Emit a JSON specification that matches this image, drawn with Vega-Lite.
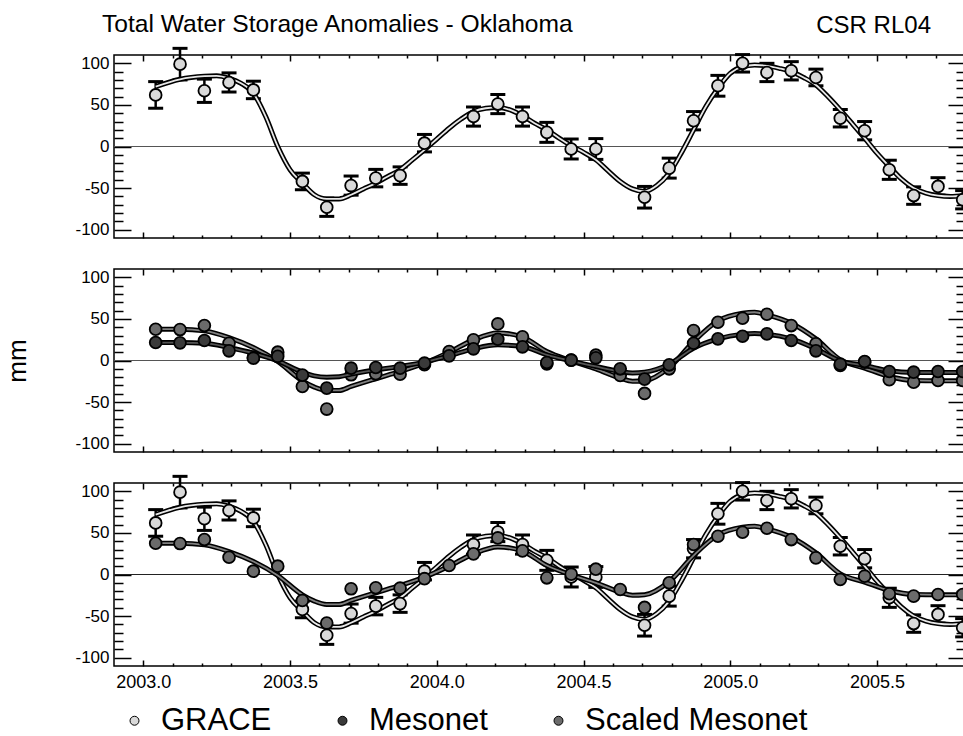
{
  "$schema": "https://vega.github.io/schema/vega-lite/v6.json",
  "background": "white",
  "padding": {"left": 4, "top": 12, "right": 0, "bottom": 0},
  "title": {"text": "Total Water Storage Anomalies - Oklahoma", "anchor": "start", "frame": "group", "fontSize": 24.6, "fontWeight": "normal", "font": "Liberation Sans", "color": "black", "baseline": "alphabetic", "offset": -44, "dx": -12},
  "datasets": {
    "grace": [
      {"t": 2003.042, "v": 62, "lo": 46, "hi": 78},
      {"t": 2003.125, "v": 99, "lo": 80, "hi": 118},
      {"t": 2003.208, "v": 67, "lo": 53, "hi": 81},
      {"t": 2003.292, "v": 77, "lo": 65.5, "hi": 88.5},
      {"t": 2003.375, "v": 68, "lo": 57.5, "hi": 78.5},
      {"t": 2003.542, "v": -42, "lo": -52, "hi": -32},
      {"t": 2003.625, "v": -73, "lo": -84, "hi": -62},
      {"t": 2003.708, "v": -47, "lo": -58.5, "hi": -35.5},
      {"t": 2003.792, "v": -38, "lo": -48.5, "hi": -27.5},
      {"t": 2003.875, "v": -35, "lo": -45.5, "hi": -24.5},
      {"t": 2003.958, "v": 4, "lo": -6.5, "hi": 14.5},
      {"t": 2004.125, "v": 36, "lo": 24.5, "hi": 47.5},
      {"t": 2004.208, "v": 51, "lo": 39.5, "hi": 62.5},
      {"t": 2004.292, "v": 36, "lo": 24.5, "hi": 47.5},
      {"t": 2004.375, "v": 17, "lo": 5, "hi": 29},
      {"t": 2004.458, "v": -3, "lo": -15, "hi": 9},
      {"t": 2004.542, "v": -3, "lo": -15.5, "hi": 9.5},
      {"t": 2004.708, "v": -61, "lo": -74, "hi": -48},
      {"t": 2004.792, "v": -26, "lo": -38, "hi": -14},
      {"t": 2004.875, "v": 31, "lo": 20, "hi": 42},
      {"t": 2004.958, "v": 73, "lo": 60.5, "hi": 85.5},
      {"t": 2005.042, "v": 100, "lo": 89.5, "hi": 110.5},
      {"t": 2005.125, "v": 89, "lo": 78, "hi": 100},
      {"t": 2005.208, "v": 91, "lo": 80, "hi": 102},
      {"t": 2005.292, "v": 83, "lo": 73, "hi": 93},
      {"t": 2005.375, "v": 34, "lo": 23.5, "hi": 44.5},
      {"t": 2005.458, "v": 19, "lo": 8, "hi": 30},
      {"t": 2005.542, "v": -28, "lo": -39.5, "hi": -16.5},
      {"t": 2005.625, "v": -59, "lo": -69.5, "hi": -48.5},
      {"t": 2005.708, "v": -48, "lo": -58.5, "hi": -37.5},
      {"t": 2005.792, "v": -64, "lo": -75, "hi": -53}
    ],
    "meso": [
      {"t": 2003.042, "m": 21.6, "s": 37.6},
      {"t": 2003.125, "m": 21.2, "s": 37.2},
      {"t": 2003.208, "m": 24, "s": 42},
      {"t": 2003.292, "m": 11.6, "s": 20.8},
      {"t": 2003.375, "m": 2.8, "s": 4},
      {"t": 2003.458, "m": 5, "s": 10},
      {"t": 2003.542, "m": -17.6, "s": -31.2},
      {"t": 2003.625, "m": -33.2, "s": -58.4},
      {"t": 2003.708, "m": -9.2, "s": -17.2},
      {"t": 2003.792, "m": -8.4, "s": -16},
      {"t": 2003.875, "m": -9.2, "s": -16.4},
      {"t": 2003.958, "m": -3.2, "s": -5},
      {"t": 2004.042, "m": 5.6, "s": 10.8},
      {"t": 2004.125, "m": 14, "s": 24.8},
      {"t": 2004.208, "m": 25.6, "s": 44},
      {"t": 2004.292, "m": 16.4, "s": 28.4},
      {"t": 2004.375, "m": -2.4, "s": -4},
      {"t": 2004.458, "m": 0.4, "s": 0.4},
      {"t": 2004.542, "m": 3.2, "s": 6.4},
      {"t": 2004.625, "m": -10, "s": -18},
      {"t": 2004.708, "m": -22.4, "s": -39.6},
      {"t": 2004.792, "m": -5.2, "s": -10},
      {"t": 2004.875, "m": 20.8, "s": 36},
      {"t": 2004.958, "m": 26, "s": 46},
      {"t": 2005.042, "m": 29.2, "s": 50.8},
      {"t": 2005.125, "m": 32, "s": 55.6},
      {"t": 2005.208, "m": 24, "s": 42},
      {"t": 2005.292, "m": 11.6, "s": 20},
      {"t": 2005.375, "m": -4.4, "s": -6},
      {"t": 2005.458, "m": -1.2, "s": -2},
      {"t": 2005.542, "m": -13.2, "s": -23.2},
      {"t": 2005.625, "m": -14, "s": -26},
      {"t": 2005.708, "m": -13.2, "s": -24},
      {"t": 2005.792, "m": -13.2, "s": -24}
    ],
    "gfit": [
      {"t": 2003.042, "v": 72}, {"t": 2003.125, "v": 80.8}, {"t": 2003.208, "v": 84.5}, {"t": 2003.25, "v": 85},
      {"t": 2003.292, "v": 82}, {"t": 2003.333, "v": 76}, {"t": 2003.375, "v": 64}, {"t": 2003.417, "v": 36},
      {"t": 2003.458, "v": 0}, {"t": 2003.5, "v": -28}, {"t": 2003.542, "v": -44}, {"t": 2003.583, "v": -58},
      {"t": 2003.625, "v": -63}, {"t": 2003.667, "v": -63}, {"t": 2003.708, "v": -58}, {"t": 2003.75, "v": -51},
      {"t": 2003.792, "v": -44}, {"t": 2003.833, "v": -36}, {"t": 2003.875, "v": -28}, {"t": 2003.917, "v": -16},
      {"t": 2003.958, "v": -4}, {"t": 2004.0, "v": 9}, {"t": 2004.042, "v": 22}, {"t": 2004.083, "v": 33},
      {"t": 2004.125, "v": 42}, {"t": 2004.167, "v": 46}, {"t": 2004.208, "v": 47}, {"t": 2004.25, "v": 44},
      {"t": 2004.292, "v": 37}, {"t": 2004.333, "v": 28}, {"t": 2004.375, "v": 20}, {"t": 2004.417, "v": 10},
      {"t": 2004.458, "v": 1}, {"t": 2004.5, "v": -7}, {"t": 2004.542, "v": -16}, {"t": 2004.583, "v": -29},
      {"t": 2004.625, "v": -42}, {"t": 2004.667, "v": -51}, {"t": 2004.708, "v": -54}, {"t": 2004.75, "v": -47},
      {"t": 2004.792, "v": -32}, {"t": 2004.833, "v": -8}, {"t": 2004.875, "v": 20}, {"t": 2004.917, "v": 48},
      {"t": 2004.958, "v": 70}, {"t": 2005.0, "v": 88}, {"t": 2005.042, "v": 96}, {"t": 2005.083, "v": 98},
      {"t": 2005.125, "v": 97}, {"t": 2005.167, "v": 94}, {"t": 2005.208, "v": 90}, {"t": 2005.25, "v": 83},
      {"t": 2005.292, "v": 74}, {"t": 2005.333, "v": 60}, {"t": 2005.375, "v": 44}, {"t": 2005.417, "v": 27},
      {"t": 2005.458, "v": 10}, {"t": 2005.5, "v": -8}, {"t": 2005.542, "v": -24}, {"t": 2005.583, "v": -39},
      {"t": 2005.625, "v": -50}, {"t": 2005.667, "v": -56}, {"t": 2005.708, "v": -59}, {"t": 2005.75, "v": -60},
      {"t": 2005.8, "v": -59}
    ],
    "mfit": [
      {"t": 2003.042, "m": 21.6, "s": 37.6}, {"t": 2003.125, "m": 21.6, "s": 37.6}, {"t": 2003.208, "m": 20.8, "s": 35.6},
      {"t": 2003.292, "m": 15.6, "s": 27.6}, {"t": 2003.375, "m": 8.8, "s": 15.6}, {"t": 2003.458, "m": -0.4, "s": -1.2},
      {"t": 2003.542, "m": -14, "s": -24.4}, {"t": 2003.583, "m": -18.5, "s": -32}, {"t": 2003.625, "m": -20, "s": -36},
      {"t": 2003.667, "m": -19.5, "s": -36}, {"t": 2003.708, "m": -16.4, "s": -31.2}, {"t": 2003.792, "m": -11.2, "s": -22},
      {"t": 2003.875, "m": -7.2, "s": -13.2}, {"t": 2003.958, "m": -2, "s": -3.2}, {"t": 2004.042, "m": 5.6, "s": 10},
      {"t": 2004.125, "m": 14, "s": 24.8}, {"t": 2004.208, "m": 18.8, "s": 33.2}, {"t": 2004.292, "m": 16.8, "s": 28.2},
      {"t": 2004.375, "m": 6.8, "s": 10.8}, {"t": 2004.458, "m": -0.4, "s": -0.4}, {"t": 2004.542, "m": -7.2, "s": -10},
      {"t": 2004.625, "m": -13.2, "s": -21.2}, {"t": 2004.667, "m": -15, "s": -25}, {"t": 2004.708, "m": -14, "s": -24.4},
      {"t": 2004.792, "m": -4.4, "s": -8.4}, {"t": 2004.875, "m": 14.8, "s": 22.8}, {"t": 2004.958, "m": 26, "s": 47.6},
      {"t": 2005.042, "m": 31.6, "s": 56.8}, {"t": 2005.083, "m": 32.5, "s": 58}, {"t": 2005.125, "m": 31.6, "s": 54.8},
      {"t": 2005.208, "m": 26, "s": 44.8}, {"t": 2005.292, "m": 14, "s": 26}, {"t": 2005.375, "m": -0.4, "s": 0.8},
      {"t": 2005.458, "m": -6, "s": -9.2}, {"t": 2005.542, "m": -12.4, "s": -19.2}, {"t": 2005.625, "m": -14.4, "s": -24},
      {"t": 2005.708, "m": -14.4, "s": -24.4}, {"t": 2005.8, "m": -14.4, "s": -24.4}
    ]
  },
  "spacing": 31,
  "bounds": "flush",
  "resolve": {"scale": {"fill": "shared"}, "legend": {"fill": "shared"}},
  "vconcat": [
    {
      "width": 851, "height": 183,
      "title": {"text": "CSR RL04", "anchor": "end", "frame": "group", "fontSize": 24, "fontWeight": "normal", "font": "Liberation Sans", "color": "black", "baseline": "alphabetic", "offset": -10, "dx": -34},
      "resolve": {"axis": {"x": "independent", "y": "independent"}},
      "layer": [
        {"data": {"name": "grace"}, "mark": {"type": "rule", "color": "#555555", "strokeWidth": 1.2},
         "encoding": {"y": {"datum": 0, "type": "quantitative", "scale": {"domain": [-110, 110], "nice": false}, "axis": null}}},
        {"data": {"name": "grace"}, "mark": {"type": "rule", "color": "black", "strokeWidth": 2.5},
         "encoding": {
           "x": {"field": "t", "type": "quantitative", "scale": {"domain": [2002.9, 2005.8], "nice": false, "zero": false},
                 "axis": {"orient": "bottom", "values": [2003, 2003.5, 2004, 2004.5, 2005, 2005.5], "labels": false, "tickSize": 6, "offset": -6, "title": null}},
           "y": {"field": "lo", "type": "quantitative", "scale": {"domain": [-110, 110], "nice": false},
                 "axis": {"orient": "left", "values": [-100, -50, 0, 50, 100], "labels": false, "tickSize": 17, "offset": -17, "title": null}},
           "y2": {"field": "hi"}}},
        {"data": {"name": "grace"}, "mark": {"type": "tick", "orient": "horizontal", "color": "black", "size": 15, "thickness": 3, "opacity": 1},
         "encoding": {
           "x": {"field": "t", "type": "quantitative", "scale": {"domain": [2002.9, 2005.8], "nice": false, "zero": false},
                 "axis": {"orient": "bottom", "values": [2003.1, 2003.2, 2003.3, 2003.4, 2003.6, 2003.7, 2003.8, 2003.9, 2004.1, 2004.2, 2004.3, 2004.4, 2004.6, 2004.7, 2004.8, 2004.9, 2005.1, 2005.2, 2005.3, 2005.4, 2005.6, 2005.7], "labels": false, "tickSize": 3, "offset": -3, "title": null}},
           "y": {"field": "lo", "type": "quantitative", "scale": {"domain": [-110, 110], "nice": false},
                 "axis": {"orient": "left", "values": [-90, -80, -70, -60, -40, -30, -20, -10, 10, 20, 30, 40, 60, 70, 80, 90], "labels": false, "tickSize": 9, "offset": -9, "title": null}}}},
        {"data": {"name": "grace"}, "mark": {"type": "tick", "orient": "horizontal", "color": "black", "size": 15, "thickness": 3, "opacity": 1},
         "encoding": {
           "x": {"field": "t", "type": "quantitative", "scale": {"domain": [2002.9, 2005.8], "nice": false, "zero": false},
                 "axis": {"orient": "top", "values": [2003, 2003.5, 2004, 2004.5, 2005, 2005.5], "labels": false, "tickSize": 6, "offset": -6, "title": null}},
           "y": {"field": "hi", "type": "quantitative", "scale": {"domain": [-110, 110], "nice": false},
                 "axis": {"orient": "right", "values": [-100, -50, 0, 50, 100], "labels": false, "tickSize": 17, "offset": -17, "title": null}}}},
        {"data": {"name": "gfit"}, "mark": {"type": "line", "color": "black", "strokeWidth": 5, "interpolate": "monotone"},
         "encoding": {
           "x": {"field": "t", "type": "quantitative", "scale": {"domain": [2002.9, 2005.8], "nice": false, "zero": false},
                 "axis": {"orient": "top", "values": [2003.1, 2003.2, 2003.3, 2003.4, 2003.6, 2003.7, 2003.8, 2003.9, 2004.1, 2004.2, 2004.3, 2004.4, 2004.6, 2004.7, 2004.8, 2004.9, 2005.1, 2005.2, 2005.3, 2005.4, 2005.6, 2005.7], "labels": false, "tickSize": 3, "offset": -3, "title": null}},
           "y": {"field": "v", "type": "quantitative", "scale": {"domain": [-110, 110], "nice": false},
                 "axis": {"orient": "right", "values": [-90, -80, -70, -60, -40, -30, -20, -10, 10, 20, 30, 40, 60, 70, 80, 90], "labels": false, "tickSize": 9, "offset": -9, "title": null}}}},
        {"data": {"name": "gfit"}, "mark": {"type": "line", "color": "#e8e8e8", "strokeWidth": 1.8, "interpolate": "monotone"},
         "encoding": {
           "x": {"field": "t", "type": "quantitative", "scale": {"domain": [2002.9, 2005.8], "nice": false, "zero": false}, "axis": null},
           "y": {"field": "v", "type": "quantitative", "scale": {"domain": [-110, 110], "nice": false}, "axis": null}}},
        {"data": {"name": "grace"}, "mark": {"type": "circle", "size": 140, "stroke": "black", "strokeWidth": 1.8, "opacity": 1},
         "encoding": {
           "x": {"field": "t", "type": "quantitative", "scale": {"domain": [2002.9, 2005.8], "nice": false, "zero": false}, "axis": null},
           "y": {"field": "v", "type": "quantitative", "scale": {"domain": [-110, 110], "nice": false},
                 "axis": {"orient": "left", "values": [-100, -50, 0, 50, 100], "labelExpr": "'' + datum.value", "ticks": false, "tickSize": 0, "labelPadding": 5, "title": null}},
           "fill": {"datum": "GRACE", "type": "nominal", "scale": {"domain": ["GRACE", "Mesonet", "Scaled Mesonet"], "range": ["#d9d9d9", "#3a3a3a", "#6b6b6b"]},
                    "legend": {"orient": "none", "legendX": 5, "legendY": 650, "direction": "horizontal", "title": null, "symbolType": "circle", "symbolSize": 80, "symbolStrokeColor": "black", "symbolStrokeWidth": 1, "labelFontSize": 31, "labelFont": "Liberation Sans", "labelColor": "black", "labelLimit": 0, "labelOffset": 11, "columnPadding": 55, "padding": 0}}}}
      ]
    },
    {
      "width": 851, "height": 183,
      "resolve": {"axis": {"x": "independent", "y": "independent"}},
      "layer": [
        {"data": {"name": "meso"}, "mark": {"type": "rule", "color": "#555555", "strokeWidth": 1.2},
         "encoding": {"y": {"datum": 0, "type": "quantitative", "scale": {"domain": [-110, 110], "nice": false}, "axis": null}}},
        {"data": {"name": "mfit"}, "mark": {"type": "line", "color": "black", "strokeWidth": 5, "interpolate": "monotone"},
         "encoding": {
           "x": {"field": "t", "type": "quantitative", "scale": {"domain": [2002.9, 2005.8], "nice": false, "zero": false},
                 "axis": {"orient": "bottom", "values": [2003, 2003.5, 2004, 2004.5, 2005, 2005.5], "labels": false, "tickSize": 6, "offset": -6, "title": null}},
           "y": {"field": "s", "type": "quantitative", "scale": {"domain": [-110, 110], "nice": false},
                 "axis": {"orient": "left", "values": [-100, -50, 0, 50, 100], "labels": false, "tickSize": 17, "offset": -17, "title": null}}}},
        {"data": {"name": "mfit"}, "mark": {"type": "line", "color": "#808080", "strokeWidth": 1.8, "interpolate": "monotone"},
         "encoding": {
           "x": {"field": "t", "type": "quantitative", "scale": {"domain": [2002.9, 2005.8], "nice": false, "zero": false},
                 "axis": {"orient": "bottom", "values": [2003.1, 2003.2, 2003.3, 2003.4, 2003.6, 2003.7, 2003.8, 2003.9, 2004.1, 2004.2, 2004.3, 2004.4, 2004.6, 2004.7, 2004.8, 2004.9, 2005.1, 2005.2, 2005.3, 2005.4, 2005.6, 2005.7], "labels": false, "tickSize": 3, "offset": -3, "title": null}},
           "y": {"field": "s", "type": "quantitative", "scale": {"domain": [-110, 110], "nice": false},
                 "axis": {"orient": "left", "values": [-90, -80, -70, -60, -40, -30, -20, -10, 10, 20, 30, 40, 60, 70, 80, 90], "labels": false, "tickSize": 9, "offset": -9, "title": null}}}},
        {"data": {"name": "meso"}, "mark": {"type": "circle", "size": 140, "stroke": "black", "strokeWidth": 1.8, "opacity": 1},
         "encoding": {
           "x": {"field": "t", "type": "quantitative", "scale": {"domain": [2002.9, 2005.8], "nice": false, "zero": false},
                 "axis": {"orient": "top", "values": [2003, 2003.5, 2004, 2004.5, 2005, 2005.5], "labels": false, "tickSize": 6, "offset": -6, "title": null}},
           "y": {"field": "s", "type": "quantitative", "scale": {"domain": [-110, 110], "nice": false},
                 "axis": {"orient": "right", "values": [-100, -50, 0, 50, 100], "labels": false, "tickSize": 17, "offset": -17, "title": null}},
           "fill": {"datum": "Scaled Mesonet", "type": "nominal", "scale": {"domain": ["GRACE", "Mesonet", "Scaled Mesonet"], "range": ["#d9d9d9", "#3a3a3a", "#6b6b6b"]},
                    "legend": {"orient": "none", "legendX": 5, "legendY": 650, "direction": "horizontal", "title": null, "symbolType": "circle", "symbolSize": 80, "symbolStrokeColor": "black", "symbolStrokeWidth": 1, "labelFontSize": 31, "labelFont": "Liberation Sans", "labelColor": "black", "labelLimit": 0, "labelOffset": 11, "columnPadding": 55, "padding": 0}}}},
        {"data": {"name": "mfit"}, "mark": {"type": "line", "color": "black", "strokeWidth": 5, "interpolate": "monotone"},
         "encoding": {
           "x": {"field": "t", "type": "quantitative", "scale": {"domain": [2002.9, 2005.8], "nice": false, "zero": false},
                 "axis": {"orient": "top", "values": [2003.1, 2003.2, 2003.3, 2003.4, 2003.6, 2003.7, 2003.8, 2003.9, 2004.1, 2004.2, 2004.3, 2004.4, 2004.6, 2004.7, 2004.8, 2004.9, 2005.1, 2005.2, 2005.3, 2005.4, 2005.6, 2005.7], "labels": false, "tickSize": 3, "offset": -3, "title": null}},
           "y": {"field": "m", "type": "quantitative", "scale": {"domain": [-110, 110], "nice": false},
                 "axis": {"orient": "right", "values": [-90, -80, -70, -60, -40, -30, -20, -10, 10, 20, 30, 40, 60, 70, 80, 90], "labels": false, "tickSize": 9, "offset": -9, "title": null}}}},
        {"data": {"name": "mfit"}, "mark": {"type": "line", "color": "#555555", "strokeWidth": 1.8, "interpolate": "monotone"},
         "encoding": {
           "x": {"field": "t", "type": "quantitative", "scale": {"domain": [2002.9, 2005.8], "nice": false, "zero": false}, "axis": null},
           "y": {"field": "m", "type": "quantitative", "scale": {"domain": [-110, 110], "nice": false}, "axis": null}}},
        {"data": {"name": "meso"}, "mark": {"type": "circle", "size": 140, "stroke": "black", "strokeWidth": 1.8, "opacity": 1},
         "encoding": {
           "x": {"field": "t", "type": "quantitative", "scale": {"domain": [2002.9, 2005.8], "nice": false, "zero": false}, "axis": null},
           "y": {"field": "m", "type": "quantitative", "scale": {"domain": [-110, 110], "nice": false},
                 "axis": {"orient": "left", "values": [-100, -50, 0, 50, 100], "labelExpr": "'' + datum.value", "ticks": false, "tickSize": 0, "labelPadding": 5, "title": "mm", "titleFontSize": 26, "titleFontWeight": "normal", "titleFont": "Liberation Sans", "titleColor": "black", "titlePadding": 44}},
           "fill": {"datum": "Mesonet", "type": "nominal", "scale": {"domain": ["GRACE", "Mesonet", "Scaled Mesonet"], "range": ["#d9d9d9", "#3a3a3a", "#6b6b6b"]},
                    "legend": {"orient": "none", "legendX": 5, "legendY": 650, "direction": "horizontal", "title": null, "symbolType": "circle", "symbolSize": 80, "symbolStrokeColor": "black", "symbolStrokeWidth": 1, "labelFontSize": 31, "labelFont": "Liberation Sans", "labelColor": "black", "labelLimit": 0, "labelOffset": 11, "columnPadding": 55, "padding": 0}}}}
      ]
    },
    {
      "width": 851, "height": 183,
      "resolve": {"axis": {"x": "independent", "y": "independent"}},
      "layer": [
        {"data": {"name": "grace"}, "mark": {"type": "rule", "color": "#222222", "strokeWidth": 1.2},
         "encoding": {"y": {"datum": 0, "type": "quantitative", "scale": {"domain": [-110, 110], "nice": false}, "axis": null}}},
        {"data": {"name": "grace"}, "mark": {"type": "rule", "color": "black", "strokeWidth": 2.5},
         "encoding": {
           "x": {"field": "t", "type": "quantitative", "scale": {"domain": [2002.9, 2005.8], "nice": false, "zero": false},
                 "axis": {"orient": "bottom", "values": [2003, 2003.5, 2004, 2004.5, 2005, 2005.5], "format": ".1f", "ticks": false, "tickSize": 0, "labelPadding": 7, "labelFontSize": 18, "title": null}},
           "y": {"field": "lo", "type": "quantitative", "scale": {"domain": [-110, 110], "nice": false},
                 "axis": {"orient": "left", "values": [-100, -50, 0, 50, 100], "labels": false, "tickSize": 17, "offset": -17, "title": null}},
           "y2": {"field": "hi"}}},
        {"data": {"name": "grace"}, "mark": {"type": "tick", "orient": "horizontal", "color": "black", "size": 15, "thickness": 3, "opacity": 1},
         "encoding": {
           "x": {"field": "t", "type": "quantitative", "scale": {"domain": [2002.9, 2005.8], "nice": false, "zero": false},
                 "axis": {"orient": "bottom", "values": [2003, 2003.5, 2004, 2004.5, 2005, 2005.5], "labels": false, "tickSize": 6, "offset": -6, "title": null}},
           "y": {"field": "lo", "type": "quantitative", "scale": {"domain": [-110, 110], "nice": false},
                 "axis": {"orient": "left", "values": [-90, -80, -70, -60, -40, -30, -20, -10, 10, 20, 30, 40, 60, 70, 80, 90], "labels": false, "tickSize": 9, "offset": -9, "title": null}}}},
        {"data": {"name": "grace"}, "mark": {"type": "tick", "orient": "horizontal", "color": "black", "size": 15, "thickness": 3, "opacity": 1},
         "encoding": {
           "x": {"field": "t", "type": "quantitative", "scale": {"domain": [2002.9, 2005.8], "nice": false, "zero": false},
                 "axis": {"orient": "bottom", "values": [2003.1, 2003.2, 2003.3, 2003.4, 2003.6, 2003.7, 2003.8, 2003.9, 2004.1, 2004.2, 2004.3, 2004.4, 2004.6, 2004.7, 2004.8, 2004.9, 2005.1, 2005.2, 2005.3, 2005.4, 2005.6, 2005.7], "labels": false, "tickSize": 3, "offset": -3, "title": null}},
           "y": {"field": "hi", "type": "quantitative", "scale": {"domain": [-110, 110], "nice": false},
                 "axis": {"orient": "right", "values": [-100, -50, 0, 50, 100], "labels": false, "tickSize": 17, "offset": -17, "title": null}}}},
        {"data": {"name": "gfit"}, "mark": {"type": "line", "color": "black", "strokeWidth": 5, "interpolate": "monotone"},
         "encoding": {
           "x": {"field": "t", "type": "quantitative", "scale": {"domain": [2002.9, 2005.8], "nice": false, "zero": false},
                 "axis": {"orient": "top", "values": [2003, 2003.5, 2004, 2004.5, 2005, 2005.5], "labels": false, "tickSize": 6, "offset": -6, "title": null}},
           "y": {"field": "v", "type": "quantitative", "scale": {"domain": [-110, 110], "nice": false},
                 "axis": {"orient": "right", "values": [-90, -80, -70, -60, -40, -30, -20, -10, 10, 20, 30, 40, 60, 70, 80, 90], "labels": false, "tickSize": 9, "offset": -9, "title": null}}}},
        {"data": {"name": "gfit"}, "mark": {"type": "line", "color": "#e8e8e8", "strokeWidth": 1.8, "interpolate": "monotone"},
         "encoding": {
           "x": {"field": "t", "type": "quantitative", "scale": {"domain": [2002.9, 2005.8], "nice": false, "zero": false},
                 "axis": {"orient": "top", "values": [2003.1, 2003.2, 2003.3, 2003.4, 2003.6, 2003.7, 2003.8, 2003.9, 2004.1, 2004.2, 2004.3, 2004.4, 2004.6, 2004.7, 2004.8, 2004.9, 2005.1, 2005.2, 2005.3, 2005.4, 2005.6, 2005.7], "labels": false, "tickSize": 3, "offset": -3, "title": null}},
           "y": {"field": "v", "type": "quantitative", "scale": {"domain": [-110, 110], "nice": false}, "axis": null}}},
        {"data": {"name": "grace"}, "mark": {"type": "circle", "size": 140, "stroke": "black", "strokeWidth": 1.8, "opacity": 1},
         "encoding": {
           "x": {"field": "t", "type": "quantitative", "scale": {"domain": [2002.9, 2005.8], "nice": false, "zero": false}, "axis": null},
           "y": {"field": "v", "type": "quantitative", "scale": {"domain": [-110, 110], "nice": false},
                 "axis": {"orient": "left", "values": [-100, -50, 0, 50, 100], "labelExpr": "'' + datum.value", "ticks": false, "tickSize": 0, "labelPadding": 5, "title": null}},
           "fill": {"datum": "GRACE", "type": "nominal", "scale": {"domain": ["GRACE", "Mesonet", "Scaled Mesonet"], "range": ["#d9d9d9", "#3a3a3a", "#6b6b6b"]},
                    "legend": {"orient": "none", "legendX": 5, "legendY": 650, "direction": "horizontal", "title": null, "symbolType": "circle", "symbolSize": 80, "symbolStrokeColor": "black", "symbolStrokeWidth": 1, "labelFontSize": 31, "labelFont": "Liberation Sans", "labelColor": "black", "labelLimit": 0, "labelOffset": 11, "columnPadding": 55, "padding": 0}}}},
        {"data": {"name": "mfit"}, "mark": {"type": "line", "color": "black", "strokeWidth": 5, "interpolate": "monotone"},
         "encoding": {
           "x": {"field": "t", "type": "quantitative", "scale": {"domain": [2002.9, 2005.8], "nice": false, "zero": false}, "axis": null},
           "y": {"field": "s", "type": "quantitative", "scale": {"domain": [-110, 110], "nice": false}, "axis": null}}},
        {"data": {"name": "mfit"}, "mark": {"type": "line", "color": "#808080", "strokeWidth": 1.8, "interpolate": "monotone"},
         "encoding": {
           "x": {"field": "t", "type": "quantitative", "scale": {"domain": [2002.9, 2005.8], "nice": false, "zero": false}, "axis": null},
           "y": {"field": "s", "type": "quantitative", "scale": {"domain": [-110, 110], "nice": false}, "axis": null}}},
        {"data": {"name": "meso"}, "mark": {"type": "circle", "size": 140, "stroke": "black", "strokeWidth": 1.8, "opacity": 1},
         "encoding": {
           "x": {"field": "t", "type": "quantitative", "scale": {"domain": [2002.9, 2005.8], "nice": false, "zero": false}, "axis": null},
           "y": {"field": "s", "type": "quantitative", "scale": {"domain": [-110, 110], "nice": false}, "axis": null},
           "fill": {"datum": "Scaled Mesonet", "type": "nominal", "scale": {"domain": ["GRACE", "Mesonet", "Scaled Mesonet"], "range": ["#d9d9d9", "#3a3a3a", "#6b6b6b"]},
                    "legend": {"orient": "none", "legendX": 5, "legendY": 650, "direction": "horizontal", "title": null, "symbolType": "circle", "symbolSize": 80, "symbolStrokeColor": "black", "symbolStrokeWidth": 1, "labelFontSize": 31, "labelFont": "Liberation Sans", "labelColor": "black", "labelLimit": 0, "labelOffset": 11, "columnPadding": 55, "padding": 0}}}}
      ]
    }
  ],
  "config": {
    "font": "Liberation Sans",
    "view": {"stroke": "black", "strokeWidth": 1.5},
    "axis": {"domain": false, "grid": false, "minExtent": 0, "labelFont": "Liberation Sans", "labelFontSize": 17, "labelColor": "black", "tickColor": "black", "tickWidth": 1.5, "titleColor": "black"}
  }
}
